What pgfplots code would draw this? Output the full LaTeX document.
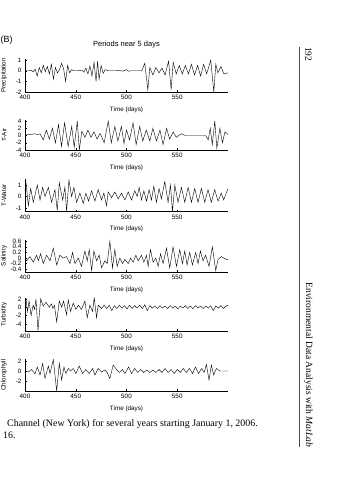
\documentclass[border=0pt]{standalone}
\usepackage{pgfplots}
\pgfplotsset{compat=1.18}
\usepackage{fontspec}
\setmainfont{Liberation Serif}
\setsansfont{Liberation Sans}
\newfontfamily\arial{Liberation Sans}
\pgfplotsset{panel/.style={
  width=203pt, scale only axis, xmin=400, xmax=600, xtick={400,450,500,550},
  axis x line*=bottom, axis y line*=left, axis line style={-, line width=0.5pt},
  tick align=inside, major tick length=2pt, tick style={line width=0.4pt, black},
  ticklabel style={font=\arial\fontsize{6.3}{7}\selectfont},
  /pgf/number format/assume math mode=true,
  label style={font=\arial\fontsize{6.3}{7}\selectfont},
  xlabel={Time (days)},
  ylabel style={at={(axis description cs:-0.103,0.5)}, anchor=center},
  cycle list={{black, no markers, line width=0.6pt}},
  anchor=south west
}}
\begin{document}
\begin{tikzpicture}
\path[use as bounding box] (0pt,0pt) rectangle (359pt,-480pt);
% Precipitation
\begin{axis}[panel, at={(25pt,-92pt)}, height=33pt, ymin=-2, ymax=1.1, ytick={-2,-1,0,1}, ylabel={Precipitation}]
\addplot coordinates {(400,0)(404,0)(406,0.05)(408,-0.1)(410,0.15)(412,-0.5)(414,0.3)(416,-0.2)(418,0.5)(420,-0.1)(422,0.4)(424,-0.3)(426,0.6)(428,-0.8)(430,0.3)(432,-0.2)(434,0.1)(436,0.7)(438,0.2)(440,-1.0)(442,0.5)(444,-0.2)(446,0.1)(448,0)(452,0)(456,0.05)(458,-0.15)(460,0.25)(462,-0.3)(464,0.45)(466,-0.5)(468,0.8)(470,-1.0)(471.5,0.9)(473,-0.8)(475,0.5)(477,-0.25)(479,0.1)(482,0)(490,0)(494,0.05)(496,-0.05)(500,0.1)(502,-0.05)(505,0)(515,0)(518,0.7)(521,-1.8)(523,0.3)(526,-0.4)(529,0.3)(532,-0.2)(535,0.25)(538,-0.4)(541.5,0.9)(544,-1.8)(546,0.8)(549,-0.3)(552,0.5)(555,-0.3)(558,0.5)(561,-0.3)(564,0.6)(567,-0.4)(570,0.5)(573,-0.5)(576,0.6)(579,-0.3)(583,1.0)(586,-2.0)(588,0.6)(590,-0.2)(593,0.4)(596,-0.3)(600,-0.2)};
\end{axis}
% T-Air
\begin{axis}[panel, at={(25pt,-150pt)}, height=29.7pt, ymin=-4, ymax=4.2, ytick={-4,-2,0,2,4}, ylabel={T-Air}]
\addplot coordinates {(400,0)(403,0.3)(406,0.2)(409,0.5)(412,0.3)(415,0.4)(418,-1.2)(421,1.5)(424,-1.0)(427,2.0)(430,-2.0)(433,3.0)(436,-3.0)(439,3.5)(442.5,-3.0)(446,2.5)(448.5,-3.2)(451.5,4.0)(453.5,-4.0)(456,1.2)(459,-0.5)(462,1.5)(465,-0.5)(468,1.0)(471,-1.0)(474,0.6)(478,-2.0)(482,4.0)(485,-2.0)(488.5,2.5)(491.5,-1.5)(495,2.5)(497.5,-2.2)(500,1.5)(503,-1.2)(506.5,3.5)(509.5,-2.5)(513,2.5)(516,-1.5)(519.5,1.5)(523,-1.5)(526,2.0)(529.5,-1.5)(533,1.5)(536,-2.5)(539.5,2.0)(542.5,-1.0)(546,1.0)(549,-0.5)(554,0.5)(558,0)(578,0)(580.5,-1.2)(582.5,2.0)(584.5,-2.5)(587,4.0)(589,-3.5)(592,2.0)(594.5,-2.0)(597,1.0)(600,0.3)};
\end{axis}
% T-Water
\begin{axis}[panel, at={(25pt,-211.5pt)}, height=32.2pt, ymin=-1.3, ymax=1.5, ytick={-1,0,1}, ylabel={T-Water}]
\addplot coordinates {(400,0.5)(401,1.2)(403.3,-0.8)(405.6,0.7)(408.2,-0.5)(412.1,1.0)(414.8,-0.3)(417.4,0.8)(419.7,0)(423,0.8)(426.2,-0.5)(429.5,0.6)(431.8,-1.2)(433.8,1.2)(437.1,-0.3)(439.3,0.8)(441,-1.3)(443.3,1.45)(445.9,0)(448.2,0.8)(450.8,-0.5)(454.1,0.3)(457.4,-0.6)(460,0.3)(462.6,-0.4)(465.6,0.5)(468.9,-0.4)(472.1,0.6)(475.4,-0.3)(477.7,0.3)(480.3,-0.8)(482,0.4)(485.3,-0.1)(488.5,0.4)(491.8,-0.2)(495.1,0.3)(498.4,-0.3)(501.7,0.4)(504.9,-0.3)(508.2,0.5)(510.5,0)(512.5,0.8)(514.8,-0.3)(517.1,0.5)(519.7,-0.4)(522.3,0.6)(524.6,-0.3)(526.9,0.9)(529.5,-0.5)(532.1,0.7)(534.4,-0.2)(537.7,1.3)(541,-0.5)(543.3,1.0)(545.3,-1.3)(547.6,1.0)(550.8,-0.5)(554.1,0.8)(557.4,-0.5)(560.7,0.8)(564,-0.5)(567.2,0.7)(570.5,-0.5)(573.8,0.7)(577.1,-0.5)(580.3,0.6)(583.6,-0.5)(586.9,0.6)(590.2,-0.4)(593.4,0.3)(595.7,-0.3)(600,0.7)};
\end{axis}
% Salinity
\begin{axis}[panel, at={(25pt,-272pt)}, height=32.2pt, ymin=-0.5, ymax=0.65, ytick={-0.4,-0.2,0,0.2,0.4,0.6}, ylabel={Salinity}]
\addplot coordinates {(400,0)(401.6,-0.1)(404.9,0.05)(408.2,-0.15)(411.5,0.1)(413.1,-0.1)(415.4,0.15)(418,-0.2)(421.3,0.1)(424.6,-0.1)(427.9,0.35)(431.2,-0.25)(434.4,0.1)(437.7,0)(441,0.05)(444.3,-0.2)(446.9,0.2)(449.2,-0.2)(452.5,0)(455.7,-0.3)(459,0.25)(461.3,-0.1)(463.3,0.3)(465.6,-0.45)(467.9,0.25)(470.5,-0.1)(473.1,0.1)(475.4,-0.35)(478.7,-0.1)(481,-0.2)(483.6,0.6)(486.2,-0.35)(488.5,0.3)(490.8,-0.3)(493.5,0)(496.1,-0.2)(498.4,-0.05)(501.7,-0.2)(504,0)(506.6,-0.15)(509.2,0.1)(511.5,-0.1)(514.8,0.1)(517.1,-0.15)(519.7,0.1)(521.3,-0.3)(523.6,0.3)(526.2,-0.15)(528.9,0)(531.2,-0.3)(533.5,0.15)(536.1,-0.2)(539.4,0.35)(542.6,-0.35)(545.9,0.4)(549.2,-0.3)(552.5,0.3)(555.1,-0.2)(557.4,0.25)(559.7,-0.25)(562.3,0.2)(564.9,-0.25)(568.2,0.2)(570.5,-0.2)(572.8,0.25)(575.4,-0.1)(578,0.1)(581.3,-0.3)(584.6,0.4)(587.9,-0.45)(590.2,-0.05)(593.4,0.05)(595.7,0)(598.4,-0.05)(600,-0.05)};
\end{axis}
% Turbidity
\begin{axis}[panel, at={(25pt,-331pt)}, height=33.3pt, ymin=-5.7, ymax=2.3, ytick={-4,-2,0,2}, ylabel={Turbidity}]
\addplot coordinates {(400,1.0)(401,2.0)(402.5,-1.0)(404,1.5)(406,-2.0)(408,0.5)(409.5,-0.5)(410.8,2.0)(412.8,-5.6)(415.4,2.0)(418,0.3)(420.7,1.2)(423.9,0)(426,0.8)(427.5,-0.3)(429,0.5)(431.2,-3.5)(433.8,1.5)(436.1,0)(438,1.5)(441,-1.8)(442.6,1.8)(444.9,-1.0)(447.5,1.0)(450.2,-0.5)(452.5,0.5)(455.7,-0.5)(459,1.5)(461.3,-2.5)(463.9,0.5)(466.6,-1.0)(468.2,2.3)(470.5,-2.5)(472.1,0.5)(475.4,-0.3)(478,0.5)(480.5,-0.3)(483,0.5)(485.5,-0.8)(488,0.4)(490.5,-0.3)(493,0.5)(495.5,-0.2)(498,0.4)(500.5,-0.4)(503,0.5)(505.5,-0.3)(508,0.4)(510.5,-0.2)(513,0.5)(515.5,-0.3)(518,0.6)(520.5,-0.8)(523,0.4)(525.5,-0.2)(528,0.3)(530.5,-0.3)(533,0.4)(535.5,-0.2)(538,0.3)(540.5,-0.3)(543,0.4)(545.5,-0.2)(548,0.3)(550.5,-0.4)(553,0.3)(555.5,-0.2)(558,0.4)(560.5,-0.3)(563,0.3)(565.5,-0.3)(568,0.4)(570.5,-0.2)(573,0.3)(575.5,-0.3)(578,0.3)(580.5,-0.2)(583,0.4)(585.5,-0.8)(588,0.3)(590.5,-0.2)(593,0.4)(595.5,-0.3)(598,0.3)(600,0.5)};
\end{axis}
% Chlorophyll
\begin{axis}[panel, at={(25pt,-391pt)}, height=32pt, ymin=-4, ymax=2.4, ytick={-2,0,2}, ylabel={Chlorophyll}]
\addplot coordinates {(400,0)(403.3,-0.2)(406.6,0.3)(409.8,-0.6)(412.1,0.8)(414.8,-0.8)(417.4,1.5)(419.7,-1.5)(423,1.0)(424.6,-0.5)(427.9,2.3)(431.2,-4.0)(433.8,1.5)(436.1,-1.8)(438.4,0.8)(440.3,-0.5)(442.6,0.5)(444.9,0)(447.5,0.5)(450.2,-0.5)(453.4,1.0)(456.7,-0.5)(460,0.3)(463.3,-0.5)(466.6,0.5)(468.9,-0.8)(472.1,0.5)(475.4,-0.2)(478.7,0.2)(481,-0.3)(483.6,-1.5)(486.9,1.2)(490.2,0.3)(493,-0.3)(496,0.3)(498.5,-0.5)(502,0.8)(505,-0.5)(508,0.5)(511,-0.3)(514,0.3)(517,-0.3)(520,0.2)(523,-0.3)(526,0.2)(529,-0.3)(532,0.3)(535,-0.3)(538,0.5)(541,-0.3)(544,0.3)(547,-0.5)(550,0.3)(553,-0.3)(556,0.5)(559,-0.3)(562,0.5)(565,-0.5)(568,0.8)(571,-0.5)(574,0.5)(576.5,-0.3)(578.7,1.3)(581.3,-1.8)(583.6,1.2)(585.9,-0.8)(588.5,0.5)(592,0)(600,0)};
\end{axis}
% page text
\node[font=\arial\fontsize{7.5}{9}\selectfont] at (126.5pt,-45pt) {Periods near 5 days};
\node[font=\arial\fontsize{9}{10}\selectfont, anchor=west, inner sep=0pt] at (0.5pt,-40pt) {(B)};
\node[font=\fontsize{9.9}{12}\selectfont, anchor=base west, inner sep=0pt] at (7pt,-426pt) {Channel (New York) for several years starting January 1, 2006.};
\node[font=\fontsize{9.9}{12}\selectfont, anchor=base west, inner sep=0pt] at (3pt,-438pt) {16.};
\draw[line width=0.5pt, black!70] (299pt,-47pt) -- (299pt,-447pt);
\node[font=\fontsize{9.5}{12}\selectfont, rotate=-90, anchor=west, inner sep=0pt] at (308.5pt,-47pt) {192};
\node[font=\fontsize{9.5}{12}\selectfont, rotate=-90, anchor=east, inner sep=0pt] at (308.5pt,-447pt) {Environmental Data Analysis with \textit{MatLab}};
\end{tikzpicture}
\end{document}
